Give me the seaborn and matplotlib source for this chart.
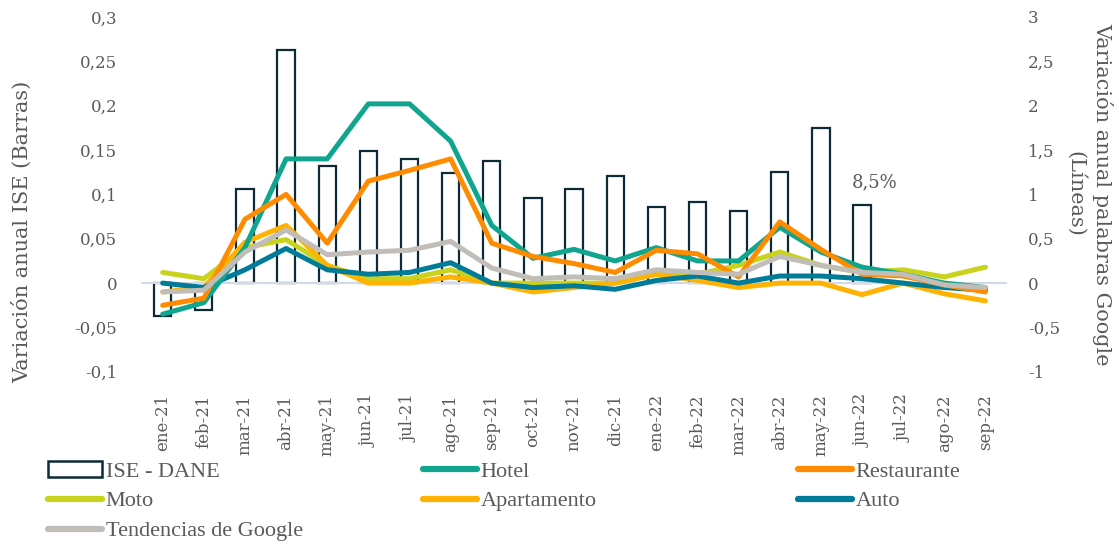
import numpy as np
import pandas as pd
import matplotlib
matplotlib.use("Agg")
import matplotlib.pyplot as plt
import seaborn as sns
from matplotlib.lines import Line2D
from matplotlib.patches import Patch

# Data
months = ["ene-21", "feb-21", "mar-21", "abr-21", "may-21", "jun-21", "jul-21",
          "ago-21", "sep-21", "oct-21", "nov-21", "dic-21", "ene-22", "feb-22",
          "mar-22", "abr-22", "may-22", "jun-22", "jul-22", "ago-22", "sep-22"]

ise = [-0.037, -0.030, 0.106, 0.263, 0.132, 0.149, 0.140, 0.124, 0.138, 0.096,
       0.106, 0.121, 0.086, 0.091, 0.081, 0.125, 0.175, 0.088, np.nan, np.nan, np.nan]

hotel = [-0.35, -0.22, 0.40, 1.40, 1.40, 2.02, 2.02, 1.60, 0.65, 0.28, 0.38,
         0.25, 0.40, 0.25, 0.25, 0.63, 0.35, 0.18, 0.10, 0.00, -0.05]
restaurante = [-0.25, -0.17, 0.72, 1.00, 0.45, 1.15, 1.27, 1.40, 0.45, 0.30, 0.22,
               0.12, 0.37, 0.33, 0.07, 0.69, 0.38, 0.10, 0.08, -0.02, -0.10]
moto = [0.12, 0.05, 0.40, 0.49, 0.20, 0.05, 0.05, 0.15, 0.00, 0.00, 0.00,
        0.00, 0.10, 0.10, 0.20, 0.35, 0.20, 0.12, 0.15, 0.07, 0.18]
apartamento = [-0.10, -0.05, 0.46, 0.65, 0.20, 0.00, 0.00, 0.07, 0.00, -0.10, -0.05,
               0.00, 0.10, 0.03, -0.05, 0.00, 0.00, -0.13, 0.00, -0.12, -0.20]
auto = [0.00, -0.05, 0.15, 0.39, 0.15, 0.10, 0.12, 0.23, 0.00, -0.05, -0.03,
        -0.07, 0.03, 0.08, 0.00, 0.08, 0.08, 0.05, 0.00, -0.05, -0.08]
google = [-0.10, -0.08, 0.35, 0.60, 0.32, 0.35, 0.37, 0.47, 0.17, 0.05, 0.07,
          0.05, 0.15, 0.12, 0.10, 0.30, 0.20, 0.12, 0.10, -0.02, -0.05]

left_ticks = [-0.1, -0.05, 0, 0.05, 0.1, 0.15, 0.2, 0.25, 0.3]
left_labels = ["-0,1", "-0,05", "0", "0,05", "0,1", "0,15", "0,2", "0,25", "0,3"]
right_ticks = [-1, -0.5, 0, 0.5, 1, 1.5, 2, 2.5, 3]
right_labels = ["-1", "-0,5", "0", "0,5", "1", "1,5", "2", "2,5", "3"]

series = {"Hotel": hotel, "Restaurante": restaurante, "Moto": moto,
          "Apartamento": apartamento, "Auto": auto, "Tendencias de Google": google}
colors = {"Hotel": "#10a58f", "Restaurante": "#ff8c00", "Moto": "#c9d21c",
          "Apartamento": "#ffb300", "Auto": "#007b98", "Tendencias de Google": "#c1bdb9"}
draw_order = ["Moto", "Apartamento", "Auto", "Hotel", "Restaurante", "Tendencias de Google"]

txt = "#5a5a5a"
sns.set_style("white")
plt.rcParams["font.family"] = ["DejaVu Serif"]

fig = plt.figure(figsize=(11.19, 5.46), dpi=100)
ax = fig.add_axes([0.127, 0.319, 0.772, 0.650])

bars = pd.DataFrame({"mes": months, "ise": ise})
sns.barplot(data=bars, x="mes", y="ise", order=months, color="white",
            edgecolor="#0d2b36", linewidth=1.6, width=0.42, ax=ax)
ax.set_ylim(-0.1, 0.3)
ax.set_xlim(-0.5, len(months) - 0.5)

ax2 = ax.twinx()
long = pd.DataFrame([(i, name, v) for name, vals in series.items()
                     for i, v in enumerate(vals)], columns=["pos", "serie", "valor"])
for name in draw_order:
    sub = long[long["serie"] == name]
    sns.lineplot(data=sub, x="pos", y="valor", color=colors[name], linewidth=3.6,
                 ax=ax2, legend=False)
ax2.set_ylim(-1, 3)
ax2.set_xlim(-0.5, len(months) - 0.5)

# zero line with tick marks at category boundaries
for a in (ax, ax2):
    for s in a.spines.values():
        s.set_visible(False)
ax.spines["bottom"].set_visible(True)
ax.spines["bottom"].set_position(("data", 0))
ax.spines["bottom"].set_color("#d3d9e6")
ax.spines["bottom"].set_linewidth(1.5)
ax.set_xticks(np.arange(len(months)))
ax.set_xticklabels(months, rotation=90, fontsize=12, color=txt)
ax.set_xticks(np.arange(-0.5, len(months)), minor=True)
ax.tick_params(axis="x", which="major", length=0, pad=80)
ax.tick_params(axis="x", which="minor", length=6, width=1.5, color="#d3d9e6", direction="out")

ax.set_yticks(left_ticks)
ax.set_yticklabels(left_labels, fontsize=12, color=txt)
ax.tick_params(axis="y", length=0, pad=18)
ax2.set_yticks(right_ticks)
ax2.set_yticklabels(right_labels, fontsize=12, color=txt)
ax2.tick_params(axis="y", length=0, pad=16)

ax.set_xlabel("")
ax.set_ylabel("Variación anual ISE (Barras)", fontsize=15, color=txt)
ax.yaxis.set_label_coords(-0.128, 0.394)
ax2.set_ylabel("Variación anual palabras Google\n(Líneas)", fontsize=15, color=txt,
               rotation=270, labelpad=38, linespacing=1.45)
ax2.set_xlabel("")

ax.text(16.75, 0.114, "8,5%", fontsize=13, color=txt, ha="left", va="center")

# legend: three separate columns
ise_handle = Patch(facecolor="white", edgecolor="#0d2b36", linewidth=1.8, label="ISE - DANE")


def line_handle(name):
    return Line2D([], [], color=colors[name], linewidth=4.5, label=name,
                  solid_capstyle="round")


columns = [
    (48, [ise_handle, line_handle("Moto"), line_handle("Tendencias de Google")]),
    (423, [line_handle("Hotel"), line_handle("Apartamento")]),
    (798, [line_handle("Restaurante"), line_handle("Auto")]),
]
for x0, hs in columns:
    fig.legend(handles=hs, loc="upper left", bbox_to_anchor=(x0 / 1119, 1 - 461 / 546),
               frameon=False, handlelength=2.45, handletextpad=0.15,
               labelspacing=0.42, borderpad=0, borderaxespad=0, labelcolor=txt,
               prop={"family": "Liberation Serif", "size": 16})

fig.savefig("out.png", dpi=100)
